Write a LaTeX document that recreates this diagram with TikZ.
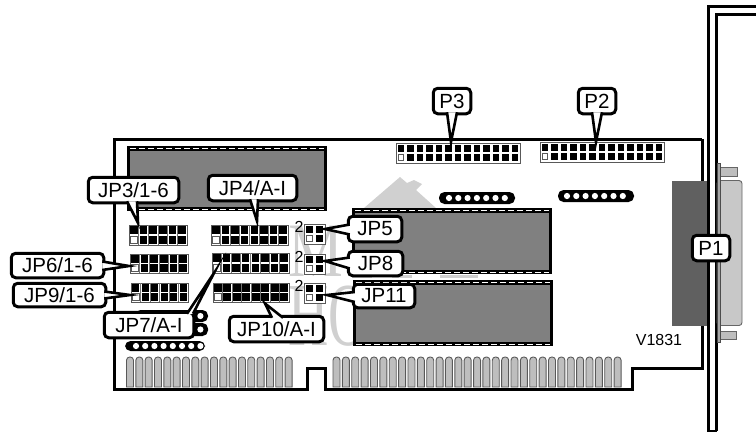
\documentclass[tikz,border=0pt]{standalone}
\usepackage{fontspec}
\setmainfont{Liberation Sans}
\newfontfamily\wmfont{Liberation Serif}
\usetikzlibrary{calc}
\definecolor{chipgrey}{HTML}{808080}
\definecolor{wmgrey}{HTML}{D0D0D0}
\definecolor{fingergrey}{HTML}{BEBEBE}
\definecolor{dsubdark}{HTML}{606060}
\definecolor{dsublight}{HTML}{C8C8C8}
\tikzset{
  boardline/.style={line width=3pt,line join=miter},
  lbl/.style={draw=black,fill=white,line width=3pt,rounded corners=4.5pt,inner sep=0pt,outer sep=0pt,font=\fontsize{20.5}{22}\selectfont},
  ptr/.style={draw=black,fill=white,line width=2.6pt,line join=miter,miter limit=20},
  jblock/.style={draw=black!65,fill=white,line width=1pt,inner sep=0pt,outer sep=0pt},
  fingerbox/.style={draw=black!65,fill=fingergrey,line width=0.9pt},
  small/.style={font=\fontsize{16}{18}\selectfont,inner sep=0pt},
  wmtext/.style={text=wmgrey,inner sep=0pt,anchor=base west},
}
% chip: black outline, grey body, white dashed strips
\newcommand{\chipbody}[4]{%
  \fill[black] (#1,#2) rectangle (#3,#4);
  \fill[chipgrey] (#1+3,#2+4.5) rectangle (#3-3,#4-4.5);
  \draw[white,line width=1pt,dash pattern=on 6pt off 3pt] (#1+3,#2+2.2) -- (#3-3,#2+2.2);
  \draw[white,line width=1pt,dash pattern=on 6pt off 3pt] (#1+3,#4-2) -- (#3-3,#4-2);
}
% jumper or pin header: name, x1,y1,x2,y2, columns, pin w, pin h
\newcommand{\jumper}[8]{%
  \pgfmathsetmacro{\jw}{#4-#2}\pgfmathsetmacro{\jh}{#5-#3}
  \pgfmathsetmacro{\jcx}{(#2+#4)/2}\pgfmathsetmacro{\jcy}{(#3+#5)/2}
  \pgfmathsetmacro{\jp}{\jw/#6}
  \pgfmathsetmacro{\jlast}{int(#6-1)}
  \node[jblock,minimum width=\jw pt,minimum height=\jh pt] (#1) at (\jcx,\jcy) {};
  \foreach \ci in {0,...,\jlast}{
    \pgfmathsetmacro{\px}{#2+(\ci+0.5)*\jp}
    \pgfmathsetmacro{\pa}{#3+0.27*\jh}
    \pgfmathsetmacro{\pb}{#3+0.73*\jh}
    \ifdim #7pt>6.9pt
      \ifnum\ci>0
        \draw[black!55,line width=.8pt] (\px-\jp/2,#3) -- (\px-\jp/2,#5);
      \fi
    \fi
    \fill[black] (\px-#7/2,\pa-#8/2) rectangle (\px+#7/2,\pa+#8/2);
    \ifnum\ci=0
      \draw[fill=white,draw=black!65,line width=0.8pt] (\px-#7/2+.4,\pb-#8/2+.4) rectangle (\px+#7/2-.4,\pb+#8/2-.4);
    \else
      \fill[black] (\px-#7/2,\pb-#8/2) rectangle (\px+#7/2,\pb+#8/2);
    \fi
  }
}
% oval socket: x1,y1,x2,y2, first dot x, pitch, dots
\newcommand{\socket}[7]{%
  \fill[black,rounded corners=5.5pt] (#1,#2) rectangle (#3,#4);
  \pgfmathsetmacro{\sy}{(#2+#4)/2}
  \pgfmathsetmacro{\slast}{int(#7-1)}
  \foreach \sck in {0,...,\slast}{
    \fill[white] (#5+\sck*#6,\sy) circle[radius=3.1pt];
  }
}
% edge fingers: first x, pitch, count
\newcommand{\fingers}[3]{%
  \pgfmathsetmacro{\flast}{int(#3-1)}
  \foreach \fng in {0,...,\flast}{
    \pgfmathsetmacro{\fx}{#1+\fng*#2}
    \draw[fingerbox] (\fx,387) {[rounded corners=3.2pt] -- (\fx,357) -- (\fx+7,357)} -- (\fx+7,387) -- cycle;
  }
}
\begin{document}
\begin{tikzpicture}[x=1pt,y=-1pt]
\useasboundingbox (0,0) rectangle (756,432);
% watermark
\fill[wmgrey] (400,177) -- (407,183) -- (414,180) -- (422,184) -- (416,190) -- (436,208) -- (364,208) -- cycle;
\node[wmtext,xscale=.8,font=\wmfont\fontsize{77}{80}\selectfont] (wmM) at (288,276) {M};
\node[wmtext,xscale=.62,font=\wmfont\fontsize{90}{94}\selectfont] (wmH) at (288,345) {HO};
\fill[wmgrey] (352,274) rectangle (372,278);
\fill[wmgrey] (392,275) rectangle (412,278);
\fill[wmgrey] (440,275) rectangle (478,278);
% board
\draw[boardline] (702,139) -- (114,139) -- (114,389) -- (307,389) -- (307,368) -- (325,368) -- (325,389) -- (632,389) -- (632,368) -- (702,368) -- (702,139);
% bracket
\draw[line width=3pt] (756,6) -- (708,6) -- (708,431);
\draw[line width=3pt] (756,14.5) -- (716,14.5) -- (716,431);
\draw[line width=1.5pt] (707,431) -- (717,431);
% connector P1
\fill[dsubdark] (672,181) rectangle (706.5,326);
\draw[draw=black!60,fill=dsublight,line width=.9pt,rounded corners=3pt] (717,180.5) -- (742,180.5) -- (742,325.5) -- (717,325.5) -- cycle;
\draw[draw=black!60,fill=fingergrey,line width=.8pt] (720,167) rectangle (737,176);
\draw[draw=black!60,fill=fingergrey,line width=.8pt] (720,331) rectangle (736,339);
\draw[draw=black!70,fill=black!35,line width=.8pt] (717.5,163) rectangle (720,342);
% chips
\chipbody{127}{146}{327}{211}
\chipbody{352}{208}{552}{274}
\chipbody{353}{280}{553}{346}
% sockets
\socket{439}{192}{515}{204}{449}{9.3}{7}
\socket{558}{190}{634}{202}{567}{9.3}{7}
\socket{135}{310}{208}{322}{136}{9.2}{8}
\socket{135}{323}{208}{336}{136}{9.2}{8}
\socket{125}{341}{205}{351}{136}{9.2}{8}
% fingers
\fingers{126.5}{9.33}{18}
\fingers{333}{9.37}{31}
% jumpers
\jumper{jp3}{129}{225}{187}{245}{6}{7.4}{8}
\jumper{jp4}{211}{225}{288}{245}{8}{7.6}{8}
\jumper{jp6}{130}{254}{188}{273}{6}{7.4}{7.6}
\jumper{jp7}{212}{253}{289}{273}{8}{7.6}{8}
\jumper{jp9}{131}{283}{188}{302}{6}{7.4}{7.6}
\jumper{jp10}{213}{283}{289}{302}{8}{7.6}{7.6}
\jumper{jp5}{304}{224}{325}{244}{2}{6.6}{6.6}
\jumper{jp8}{304}{254}{325}{274}{2}{6.6}{6.6}
\jumper{jp11}{304}{283}{325}{303}{2}{6.6}{6.6}
\jumper{p3}{396}{143}{520}{163}{13}{6.5}{6.5}
\jumper{p2}{540}{142}{664}{162}{13}{6.5}{6.5}
\node[small] (two5) at (299,227) {2};
\node[small] (two8) at (299,257) {2};
\node[small] (two11) at (299,286) {2};
\node[font=\fontsize{16}{18}\selectfont,inner sep=0pt] (ver) at (659,340) {V1831};
% callouts
\node[lbl,minimum width=90.5pt,minimum height=25.5pt] (lJPiii) at (133.5,190) {JP3/1-6};
\draw[ptr] ($(lJPiii.south)+(-6.5,-1.5)$) -- ($(jp3.north west)+(9,-2)$) -- ($(lJPiii.south)+(3.5,-1.5)$);
\node[lbl,minimum width=88.5pt,minimum height=25.5pt] (lJPiv) at (252.5,188) {JP4/A-I};
\draw[ptr] ($(lJPiv.south)+(-2.5,-1.5)$) -- ($(jp4.north west)+(46,-4)$) -- ($(lJPiv.south)+(5.5,-1.5)$);
\node[lbl,minimum width=92.5pt,minimum height=24.5pt] (lJPvi) at (57.5,265.5) {JP6/1-6};
\draw[ptr] ($(lJPvi.east)+(-1.5,-4)$) -- ($(jp6.west)+(-1,2.5)$) -- ($(lJPvi.east)+(-1.5,4.5)$);
\node[lbl,minimum width=92.5pt,minimum height=23.5pt] (lJPix) at (59.5,295) {JP9/1-6};
\draw[ptr] ($(lJPix.east)+(-1.5,-3.5)$) -- ($(jp9.west)+(-1,2.5)$) -- ($(lJPix.east)+(-1.5,3.5)$);
\node[lbl,minimum width=89.5pt,minimum height=25.5pt] (lJPvii) at (149,325) {JP7/A-I};
\draw[ptr] ($(lJPvii.north)+(38,1.5)$) -- ($(jp7.south west)+(2,0)$) -- ($(lJPvii.north)+(44,1.5)$);
\node[lbl,minimum width=94.5pt,minimum height=25.5pt] (lJPx) at (276.5,329) {JP10/A-I};
\draw[ptr] ($(lJPx.north)+(-4.5,1.5)$) -- ($(jp10.south)+(14,1.5)$) -- ($(lJPx.north)+(6.5,1.5)$);
\node[lbl,minimum width=53.5pt,minimum height=25.5pt] (lJPv) at (375,229) {JP5};
\draw[ptr] ($(lJPv.west)+(1.5,-4.5)$) -- ($(jp5.east)+(0,-5)$) -- ($(lJPv.west)+(1.5,5.5)$);
\node[lbl,minimum width=54.5pt,minimum height=24.5pt] (lJPviii) at (375.5,263.5) {JP8};
\draw[ptr] ($(lJPviii.west)+(1.5,-6)$) -- ($(jp8.east)+(0,-3)$) -- ($(lJPviii.west)+(1.5,5)$);
\node[lbl,minimum width=61.5pt,minimum height=23.5pt] (lJPxi) at (384,296) {JP11};
\draw[ptr] ($(lJPxi.west)+(1.5,-4)$) -- ($(jp11.east)+(2,2)$) -- ($(lJPxi.west)+(1.5,6)$);
\node[lbl,minimum width=37.5pt,minimum height=25.5pt] (lPiii) at (452,101) {P3};
\draw[ptr] ($(lPiii.south)+(-5,-1.5)$) -- ($(p3.north)+(-7,-1)$) -- ($(lPiii.south)+(5,-1.5)$);
\node[lbl,minimum width=37.5pt,minimum height=25.5pt] (lPii) at (597,101) {P2};
\draw[ptr] ($(lPii.south)+(-5,-1.5)$) -- ($(p2.north)+(-6,0)$) -- ($(lPii.south)+(5,-1.5)$);
\node[lbl,minimum width=37.5pt,minimum height=25.5pt] (lPi) at (711,248) {P1};
\end{tikzpicture}
\end{document}
